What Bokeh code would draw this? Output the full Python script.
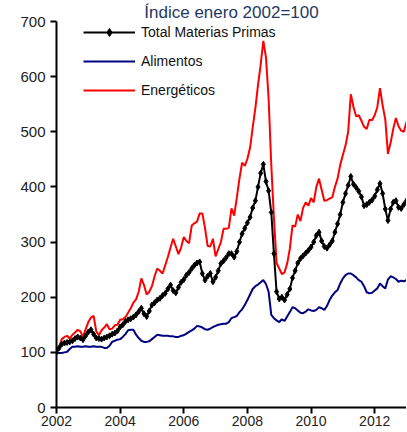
from bokeh.plotting import figure
from bokeh.models import Legend, LegendItem, FixedTicker, Range1d
from bokeh.embed import file_html
from bokeh.resources import INLINE

# ---- data (monthly, Jan 2002 .. Jan 2013), index Jan 2002 = 100 ----
start_year = 2002
total = [100, 108, 115, 117, 118, 119, 121, 125, 128, 126, 123, 130,
         137, 141, 133, 126, 125, 124, 126, 128, 130, 133, 135, 139,
         146, 150, 156, 159, 161, 164, 168, 174, 180, 170, 165, 175,
         186, 190, 195, 198, 203, 207, 215, 222, 212, 208, 218, 227,
         232, 240, 245, 252, 258, 262, 264, 243, 231, 238, 243, 228,
         236, 248, 261, 266, 272, 279, 279, 273, 283, 300, 315, 325,
         335, 345, 362, 375, 400, 425, 441, 410, 393, 354, 279, 210,
         197, 200, 195, 205, 215, 235, 248, 262, 270, 275, 280, 285,
         291, 300, 312, 318, 302, 292, 289, 295, 302, 318, 333, 350,
         372, 388, 403, 419, 405, 399, 392, 382, 366, 368, 372, 376,
         383, 395, 406, 388, 360, 339, 360, 372, 375, 363, 361, 368,
         375]
alimentos = [100, 99, 99, 100, 101, 106, 110, 110, 111, 110, 110, 111,
             110, 110, 111, 110, 110, 110, 108, 108, 112, 119, 121, 123,
             124, 128, 133, 140, 141, 141, 132, 126, 121, 119, 119, 120,
             124, 128, 132, 131, 130, 130, 130, 129, 129, 128, 128, 130,
             131, 134, 137, 140, 143, 148, 147, 145, 142, 141, 143, 146,
             148, 150, 151, 152, 152, 155, 162, 164, 166, 173, 178, 186,
             195, 205, 215, 220, 223, 227, 231, 224, 210, 168, 162, 158,
             155, 160, 157, 165, 173, 182, 180, 176, 172, 171, 174, 178,
             176, 175, 177, 182, 180, 177, 184, 195, 203, 209, 213, 225,
             234, 240, 243, 243, 240, 236, 231, 228, 220, 209, 207, 208,
             212, 216, 225, 220, 216, 232, 238, 236, 233, 228, 230, 229,
             231]
energeticos = [100, 110, 124, 128, 130, 125, 132, 136, 141, 138, 128, 142,
               155, 163, 166, 138, 131, 140, 145, 151, 142, 143, 149, 150,
               159, 160, 164, 172, 180, 190, 196, 210, 234, 222, 205, 210,
               220, 238, 252, 248, 243, 258, 273, 290, 306, 292, 278, 290,
               309, 302, 298, 330, 334, 337, 352, 352, 326, 293, 292, 306,
               274, 287, 300, 324, 324, 326, 361, 348, 380, 415, 444, 438,
               451, 471, 508, 543, 585, 622, 665, 635, 560, 440, 344, 262,
               252, 242, 245, 261, 288, 330, 328, 350, 338, 362, 372, 366,
               380, 372, 400, 415, 395, 375, 376, 379, 381, 400, 415, 440,
               458, 475, 500, 568, 545, 528, 530, 520, 509, 505, 522, 521,
               530, 545, 579, 548, 522, 460, 480, 505, 525, 510, 502, 500,
               518]
series_names = ["Total Materias Primas", "Alimentos", "Energéticos"]
x_ticks = [2002, 2004, 2006, 2008, 2010, 2012]
y_ticks = [0, 100, 200, 300, 400, 500, 600, 700]
title_text = "Índice enero 2002=100"

x = [start_year + i / 12 for i in range(len(total))]

FONT = "Liberation Sans"

p = figure(width=406, height=431, output_backend="svg", toolbar_location=None,
           x_range=Range1d(2002, 2013), y_range=Range1d(0, 700),
           min_border_left=56, min_border_right=0, min_border_top=20,
           min_border_bottom=24, title=title_text)
p.title.align = "center"
p.title.text_font = FONT
p.title.text_font_size = "17px"
p.title.text_font_style = "normal"
p.title.text_color = "#1F3864"
p.title.standoff = 0
p.outline_line_color = None
p.xgrid.visible = False
p.ygrid.visible = False

r_red = p.line(x, energeticos, line_color="#FF0000", line_width=2)
r_blue = p.line(x, alimentos, line_color="#000080", line_width=2)
r_black = p.line(x, total, line_color="black", line_width=2)
r_pts = p.scatter(x, total, marker="diamond", size=6, fill_color="black",
                  line_color="black")

for ax, ticks in ((p.xaxis, x_ticks), (p.yaxis, y_ticks)):
    ax.ticker = FixedTicker(ticks=ticks)
    ax.minor_tick_line_color = None
    ax.axis_line_color = "black"
    ax.axis_line_width = 2
    ax.major_tick_line_color = "black"
    ax.major_tick_line_width = 2
    ax.major_tick_out = 6
    ax.major_tick_in = 0
    ax.major_label_text_font = FONT
    ax.major_label_text_color = "#222222"
p.yaxis.major_label_text_font_size = "15px"
p.yaxis.major_label_standoff = 5
p.xaxis.major_label_text_font_size = "14px"
p.xaxis.major_label_standoff = 2

legend = Legend(items=[
    LegendItem(label=series_names[0], renderers=[r_black, r_pts]),
    LegendItem(label=series_names[1], renderers=[r_blue]),
    LegendItem(label=series_names[2], renderers=[r_red]),
], location=(27, 307))
legend.border_line_color = None
legend.background_fill_alpha = 0
legend.label_text_font = FONT
legend.label_text_font_size = "14px"
legend.label_text_color = "#111111"
legend.glyph_width = 52
legend.glyph_height = 20
legend.label_height = 20
legend.spacing = 9
legend.padding = 0
legend.margin = 0
legend.label_standoff = 6
p.add_layout(legend)

open("out.html", "w").write(file_html(p, INLINE))
